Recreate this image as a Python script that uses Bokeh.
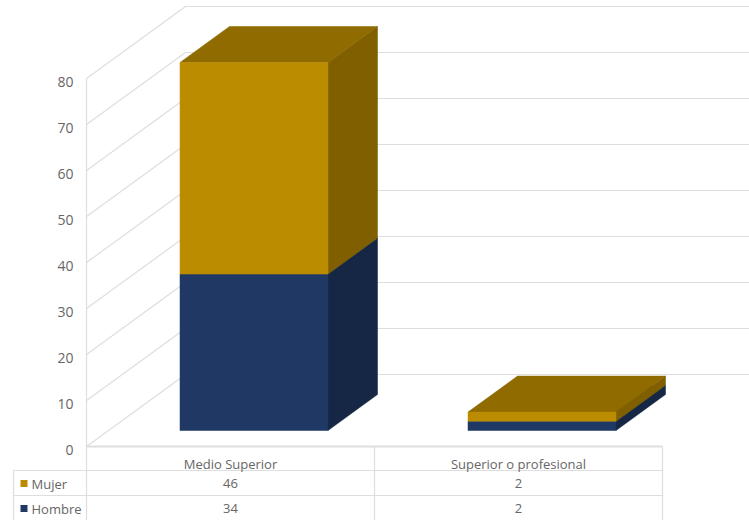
from bokeh.plotting import figure
from bokeh.models import Range1d
from bokeh.core.properties import value
from bokeh.embed import file_html
from bokeh.resources import INLINE

categories = ["Medio Superior", "Superior o profesional"]
mujer = [46, 2]
hombre = [34, 2]
y_ticks = [0, 10, 20, 30, 40, 50, 60, 70, 80]

W, H = 749, 520
CAT_PX, UNIT_PX = 288, 4.6
X0_PX, Y0_PX = 86, 446          # origin of the front floor corner
DEPTH_X, DEPTH_Y = 99 / CAT_PX, 72 / UNIT_PX
GRID = "#DEDEDE"
TEXT = "#666666"
FONT = value("Open Sans")

p = figure(width=W, height=H, output_backend="svg", toolbar_location=None,
           min_border=0, outline_line_color=None,
           x_range=Range1d(-X0_PX / CAT_PX, (W - X0_PX) / CAT_PX),
           y_range=Range1d((Y0_PX - H) / UNIT_PX, Y0_PX / UNIT_PX))
p.axis.visible = False
p.grid.visible = False


def proj(u, v, d):
    return u + d * DEPTH_X, v + d * DEPTH_Y


def px_x(n):
    return n / CAT_PX


def px_y(n):
    return n / UNIT_PX


# Walls and floor
right_end = (W + 10 - X0_PX) / CAT_PX
xs, ys = [], []
for t in y_ticks:
    bx, by = proj(0, t, 1)
    xs.append([0, bx, right_end])
    ys.append([t, by, by])
p.multi_line(xs, ys, line_color=GRID, line_width=1.2)
p.line([0, 0], [y_ticks[0], y_ticks[-1]], line_color=GRID, line_width=1.2)

# Data table lines
n = len(categories)
rows = [-px_y(24), -px_y(49), -px_y(74)]
left = px_x(-73)
p.line([0, n], [0, 0], line_color=GRID, line_width=2)
for r in rows[:2]:
    p.line([left, n], [r, r], line_color=GRID, line_width=1.2)
for c in range(n + 1):
    p.line([c, c], [0, rows[2]], line_color=GRID, line_width=1.2)
p.line([left, left], [rows[0], rows[2]], line_color=GRID, line_width=1.2)

# 3D stacked bars
BAR_W = 148 / CAT_PX
GAP = 71.5 / CAT_PX
D0, D1 = 16 / 72, 52 / 72
FACE = {"hombre": ("#1F3864", "#1B3156", "#152744"),
        "mujer": ("#BC8C00", "#8F6B00", "#7F5F00")}


def box(i, lo, hi, colors):
    front, top, side = colors
    l, r = i + GAP, i + GAP + BAR_W
    quad = lambda pts: ([proj(*q)[0] for q in pts], [proj(*q)[1] for q in pts])
    faces = [
        (quad([(r, lo, D0), (r, lo, D1), (r, hi, D1), (r, hi, D0)]), side),
        (quad([(l, hi, D0), (r, hi, D0), (r, hi, D1), (l, hi, D1)]), top),
        (quad([(l, lo, D0), (r, lo, D0), (r, hi, D0), (l, hi, D0)]), front),
    ]
    for (fx, fy), col in faces:
        p.patch(fx, fy, fill_color=col, line_color=col, line_width=0.5)


for i in range(n):
    box(i, 0, hombre[i], FACE["hombre"])
    box(i, hombre[i], hombre[i] + mujer[i], FACE["mujer"])

# Axis labels
p.text([px_x(-13)] * len(y_ticks), [t - px_y(3.5) for t in y_ticks],
       text=[str(t) for t in y_ticks], text_align="right", text_baseline="middle",
       text_font=FONT, text_font_size="14px", text_color=TEXT)

# Table text
cx = [i + 0.5 for i in range(n)]
row_cat, row_m, row_h = -px_y(17), -px_y(37), -px_y(62)
tb = dict(text_align="center", text_baseline="middle", text_font=FONT,
          text_font_size="13px", text_color=TEXT)
p.text(cx, [row_cat] * n, text=categories, **tb)
p.text(cx, [row_m] * n, text=[str(v) for v in mujer], **tb)
p.text(cx, [row_h] * n, text=[str(v) for v in hombre], **tb)

# Legend keys in the table
lx = px_x(-62.5)
p.scatter([lx], [row_m], marker="square", size=7, fill_color="#BC8C00", line_color=None)
p.scatter([lx], [row_h], marker="square", size=7, fill_color="#1F3864", line_color=None)
tl = dict(text_align="left", text_baseline="middle", text_font=FONT,
          text_font_size="13px", text_color=TEXT)
p.text([px_x(-55)], [row_m], text=["Mujer"], **tl)
p.text([px_x(-55)], [row_h], text=["Hombre"], **tl)

open("out.html", "w").write(file_html(p, INLINE))
